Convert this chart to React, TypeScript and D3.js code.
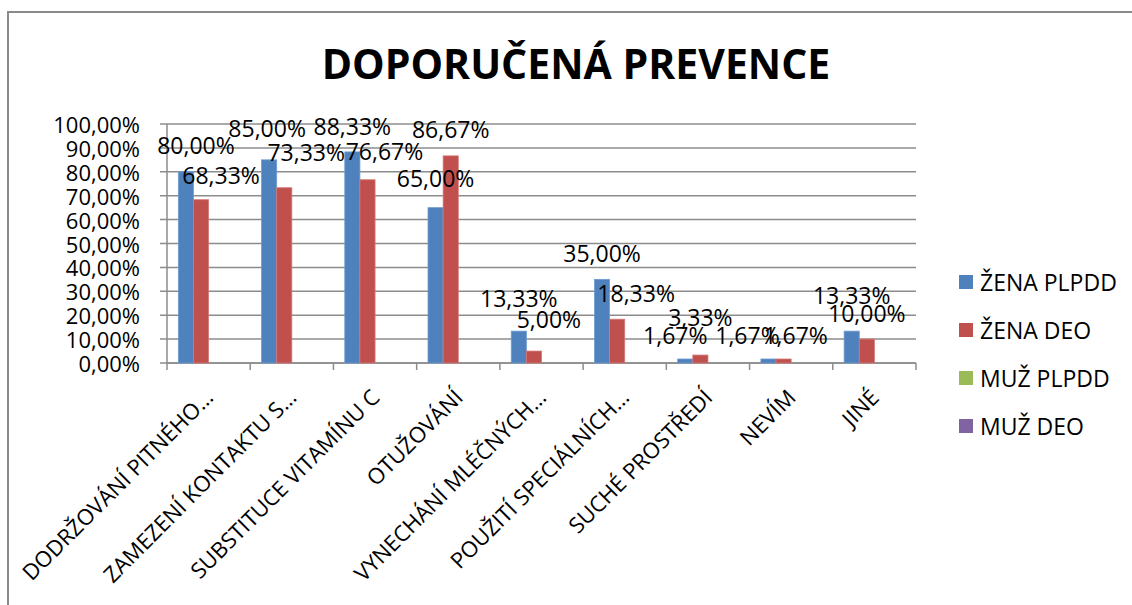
import React from "react";
import * as d3 from "d3";

const title = "DOPORUČENÁ PREVENCE";
const categories = [
  "DODRŽOVÁNÍ PITNÉHO…",
  "ZAMEZENÍ KONTAKTU S…",
  "SUBSTITUCE VITAMÍNU C",
  "OTUŽOVÁNÍ",
  "VYNECHÁNÍ MLÉČNÝCH…",
  "POUŽITÍ SPECIÁLNÍCH…",
  "SUCHÉ PROSTŘEDÍ",
  "NEVÍM",
  "JINÉ",
];
const seriesNames = ["ŽENA PLPDD", "ŽENA DEO", "MUŽ PLPDD", "MUŽ DEO"];
const zenaPlpdd = [80.0, 85.0, 88.33, 65.0, 13.33, 35.0, 1.67, 1.67, 13.33];
const zenaDeo = [68.33, 73.33, 76.67, 86.67, 5.0, 18.33, 3.33, 1.67, 10.0];
const muzPlpdd: (number | null)[] = [null, null, null, null, null, null, null, null, null];
const muzDeo: (number | null)[] = [null, null, null, null, null, null, null, null, null];
const yTicks = [0, 10, 20, 30, 40, 50, 60, 70, 80, 90, 100];

const seriesValues = [zenaPlpdd, zenaDeo, muzPlpdd, muzDeo];
const colors = ["#4F81BD", "#C0504D", "#9BBB59", "#8064A2"];
const strokes = ["#6F9BD1", "#D47976", "#B5CE80", "#9D86BE"];

// label placement nudges (as placed in the original chart), per series per category
const labelDx = [
  [10, -2, 0, 0, 0, 0, -10, -21, 0],
  [20, 22, 17, 0, 15, 19, 0, 12, 0],
];
const labelRise = [
  [27, 32, 26, 30, 33, 26, 24, 24, 36],
  [25, 36, 29, 27, 32, 26, 38, 24, 26],
];

const FONT = "'Open Sans', 'Noto Sans', sans-serif";
const fmt = (v: number) => v.toFixed(2).replace(".", ",") + "%";

export default function App() {
  const W = 1132;
  const H = 605;
  const left = 167;
  const right = 916;
  const top = 124;
  const bottom = 363;
  const fs = 23;
  const fsAxis = 22;

  const x = d3.scaleBand<string>().domain(categories).range([left, right]).paddingInner(0).paddingOuter(0);
  const xs = d3
    .scaleBand<string>()
    .domain(seriesNames)
    .range([0, x.bandwidth()])
    .paddingInner(0)
    .paddingOuter(0.75);
  const y = d3.scaleLinear().domain([0, 100]).range([bottom, top]);

  const gridColor = "#8C8C8C";

  return (
    <svg
      width={W}
      height={H}
      style={{ position: "absolute", left: 0, top: 0, background: "#fff" }}
      fontFamily={FONT}
    >
      <rect x={0} y={0} width={W} height={H} fill="#fff" />
      <rect x={8} y={12} width={W + 20} height={H + 20} fill="#fff" stroke="#8A8A8A" strokeWidth={2} />

      <text x={576} y={79} textAnchor="middle" fontSize={41} fontWeight={700} fill="#000">
        {title}
      </text>

      {/* gridlines + y tick marks */}
      {yTicks.map((t) => (
        <line key={"g" + t} x1={left - 7} x2={right} y1={y(t)} y2={y(t)} stroke={gridColor} strokeWidth={1.5} />
      ))}
      {/* y axis */}
      <line x1={left} x2={left} y1={top} y2={bottom} stroke={gridColor} strokeWidth={1.5} />
      {/* x axis + ticks */}
      <line x1={left} x2={right} y1={bottom} y2={bottom} stroke={gridColor} strokeWidth={1.5} />
      {d3.range(categories.length + 1).map((i) => {
        const xx = left + i * x.step();
        return <line key={"xt" + i} x1={xx} x2={xx} y1={bottom} y2={bottom + 7} stroke={gridColor} strokeWidth={1.5} />;
      })}

      {yTicks.map((t) => (
        <text key={"yl" + t} x={140} y={y(t)} textAnchor="end" dominantBaseline="central" fontSize={fsAxis} fill="#000">
          {fmt(t)}
        </text>
      ))}

      {/* bars */}
      {seriesValues.map((vals, si) =>
        vals.map((v, ci) => {
          if (v === null || v === undefined) return null;
          const bx = (x(categories[ci]) as number) + (xs(seriesNames[si]) as number);
          return (
            <rect
              key={"b" + si + "-" + ci}
              x={bx}
              y={y(v)}
              width={xs.bandwidth()}
              height={bottom - y(v)}
              fill={colors[si]}
              stroke={strokes[si]}
              strokeWidth={0.8}
            />
          );
        })
      )}

      {/* data labels */}
      {seriesValues.map((vals, si) =>
        vals.map((v, ci) => {
          if (v === null || v === undefined || si > 1) return null;
          const cx = (x(categories[ci]) as number) + (xs(seriesNames[si]) as number) + xs.bandwidth() / 2;
          return (
            <text
              key={"l" + si + "-" + ci}
              x={cx + labelDx[si][ci]}
              y={y(v) - labelRise[si][ci]}
              textAnchor="middle"
              dominantBaseline="central"
              fontSize={fs}
              fill="#000"
            >
              {fmt(v)}
            </text>
          );
        })
      )}

      {/* category labels */}
      {categories.map((c) => {
        const cx = (x(c) as number) + x.bandwidth() / 2 + 6;
        const cy = bottom + 36;
        return (
          <text
            key={"c" + c}
            x={cx}
            y={cy}
            textAnchor="end"
            fontSize={fsAxis}
            fill="#000"
            transform={`rotate(-45 ${cx} ${cy})`}
          >
            {c}
          </text>
        );
      })}

      {/* legend */}
      {seriesNames.map((s, i) => {
        const ly = 282 + i * 48;
        return (
          <g key={"lg" + s}>
            <rect x={959} y={ly - 7} width={14} height={14} fill={colors[i]} />
            <text x={980} y={ly} dominantBaseline="central" fontSize={fs} fill="#000">
              {s}
            </text>
          </g>
        );
      })}
    </svg>
  );
}
